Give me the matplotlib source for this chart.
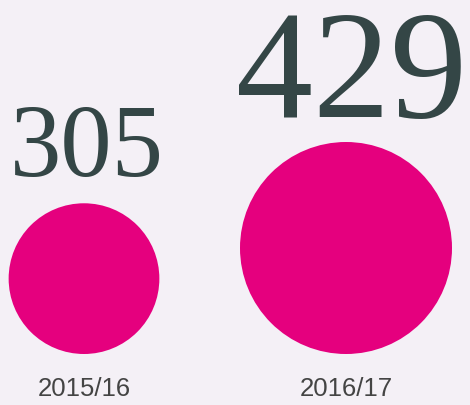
import matplotlib
matplotlib.use("Agg")
import matplotlib.pyplot as plt
from matplotlib.patches import Circle

BG = "#f4f0f6"
PINK = "#e5007e"
NUM_COLOR = "#344646"
LABEL_COLOR = "#444444"

years = ["2015/16", "2016/17"]
values = [305, 429]

# layout in pixel units (figure is 470x405 px)
centers_x = [84, 346]
ground = 354          # circles sit on this line
px_per_unit = 106 / 429
num_sizes = [74, 111]
num_x = [87, 352]
num_baselines = [176, 117]

fig = plt.figure(figsize=(4.7, 4.05), dpi=100)
fig.patch.set_facecolor(BG)
ax = fig.add_axes([0, 0, 1, 1])
ax.set_facecolor(BG)
ax.set_xlim(0, 470)
ax.set_ylim(405, 0)
ax.set_aspect("equal")
ax.axis("off")

for x, v, yr, fs, nx, base in zip(centers_x, values, years, num_sizes, num_x, num_baselines):
    r = v * px_per_unit
    ax.add_patch(Circle((x, ground - r), r, facecolor=PINK, edgecolor="none"))
    ax.text(nx, base, str(v), ha="center", va="baseline",
            fontsize=fs, family="Liberation Serif", color=NUM_COLOR)
    ax.text(x, 389, yr, ha="center", va="center",
            fontsize=18.5, family="Liberation Sans", color=LABEL_COLOR)

plt.savefig("out.png", dpi=100, facecolor=BG)
plt.close()
